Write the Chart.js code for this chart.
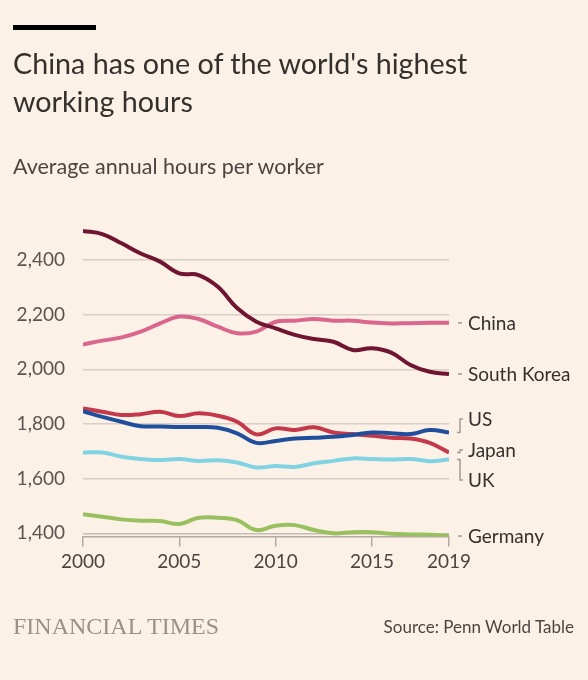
<!DOCTYPE html>
<html>
<head>
<meta charset="utf-8">
<script src="https://cdn.jsdelivr.net/npm/chart.js@4/dist/chart.umd.min.js"></script>
<style>
html, body { margin: 0; padding: 0; background: #fcf1e7; }
body { width: 588px; height: 680px; position: relative; overflow: hidden; font-family: Lato, sans-serif; color: #33302e; }
#bar { position: absolute; left: 13px; top: 25px; width: 83px; height: 5px; background: #000; }
#title { position: absolute; left: 13px; top: 44px; font-size: 28.7px; line-height: 38px; width: 570px; }
#sub { position: absolute; left: 13px; top: 154px; font-size: 21.5px; line-height: 25px; color: #4a4542; }
#ft { position: absolute; left: 13px; top: 614px; font-family: "Liberation Serif", serif; font-size: 24px; line-height: 24px; color: #9a9189; }
#source { position: absolute; right: 14px; top: 617px; font-size: 17px; line-height: 20px; color: #4a4542; }
#chart { position: absolute; left: 0; top: 0; }
</style>
</head>
<body>
<canvas id="chart" width="588" height="680"></canvas>
<div id="bar"></div>
<div id="title">China has one of the world's highest<br>working hours</div>
<div id="sub">Average annual hours per worker</div>
<div id="ft">FINANCIAL TIMES</div>
<div id="source">Source: Penn World Table</div>
<script>
// values (hours per worker per year)
var years = [2000, 2001, 2002, 2003, 2004, 2005, 2006, 2007, 2008, 2009,
             2010, 2011, 2012, 2013, 2014, 2015, 2016, 2017, 2018, 2019];

var southKorea = [2506, 2495, 2461, 2424, 2394, 2351, 2345, 2302, 2224, 2174,
                  2150, 2126, 2111, 2101, 2071, 2077, 2061, 2016, 1991, 1983];
var china      = [2091, 2105, 2117, 2138, 2168, 2193, 2184, 2156, 2132, 2138,
                  2174, 2178, 2184, 2178, 2178, 2171, 2168, 2169, 2170, 2170];
var us         = [1847, 1826, 1808, 1792, 1791, 1789, 1789, 1786, 1766, 1731,
                  1738, 1747, 1750, 1753, 1760, 1769, 1766, 1763, 1778, 1769];
var japan      = [1857, 1845, 1833, 1836, 1845, 1829, 1839, 1830, 1808, 1762,
                  1784, 1778, 1788, 1769, 1763, 1757, 1750, 1747, 1731, 1696];
var uk         = [1695, 1696, 1680, 1672, 1668, 1672, 1665, 1667, 1659, 1641,
                  1646, 1643, 1656, 1665, 1674, 1672, 1670, 1672, 1664, 1670];
var germany    = [1470, 1461, 1451, 1446, 1445, 1434, 1457, 1457, 1448, 1412,
                  1428, 1430, 1412, 1400, 1404, 1404, 1398, 1396, 1395, 1390];

var xTicks = [2000, 2005, 2010, 2015, 2019];
var yTicks = [1400, 1600, 1800, 2000, 2200, 2400];

// where the right-hand labels sit when they are nudged away from the line end
var labelShift = { 'US': 1818, 'Japan': 1705, 'UK': 1595 };

function series(name, values, colour) {
  return {
    label: name,
    data: values,
    borderColor: colour,
    borderWidth: 4,
    pointRadius: 0,
    tension: 0.4,
    fill: false
  };
}

var endLabels = {
  id: 'endLabels',
  afterDatasetsDraw: function(chart) {
    var ctx = chart.ctx;
    var yScale = chart.scales.y;
    var right = chart.chartArea.right;
    var cx = right + 11;
    ctx.save();
    ctx.font = '19px Lato';
    ctx.fillStyle = '#33302e';
    ctx.textBaseline = 'middle';
    ctx.strokeStyle = '#a39a92';
    ctx.lineWidth = 1.5;
    chart.data.datasets.forEach(function(ds) {
      var dy = yScale.getPixelForValue(ds.data[ds.data.length - 1]);
      var ly = dy;
      ctx.beginPath();
      if (labelShift[ds.label] !== undefined) {
        ly = yScale.getPixelForValue(labelShift[ds.label]);
        ctx.moveTo(cx - 3, dy);
        ctx.lineTo(cx, dy);
        ctx.lineTo(cx, ly);
        ctx.lineTo(cx + 3, ly);
      } else {
        ctx.moveTo(cx - 2, ly);
        ctx.lineTo(cx + 2, ly);
      }
      ctx.stroke();
      ctx.fillText(ds.label, right + 19, ly + 1);
    });
    ctx.restore();
  }
};

var chart_config = {
  type: 'line',
  data: {
    labels: years,
    datasets: [
      series('South Korea', southKorea, '#6f1431'),
      series('China', china, '#da668e'),
      series('US', us, '#1f4f9c'),
      series('Japan', japan, '#c3394a'),
      series('UK', uk, '#80d3e2'),
      series('Germany', germany, '#99c05f')
    ]
  },
  options: {
    responsive: false,
    animation: false,
    devicePixelRatio: 1,
    layout: { padding: { top: 227.2, right: 139, left: 0, bottom: 0 } },
    plugins: { legend: { display: false }, tooltip: { enabled: false } },
    scales: {
      x: {
        type: 'linear',
        min: 2000,
        max: 2019,
        afterBuildTicks: function(scale) {
          scale.ticks = xTicks.map(function(v) { return { value: v }; });
        },
        afterFit: function(scale) { scale.height = 143.4; },
        grid: { drawOnChartArea: false, drawTicks: true, tickLength: 10, color: '#b3aaa2', lineWidth: 1.5 },
        border: { display: true, color: '#b3aaa2', width: 1.5 },
        ticks: {
          padding: 4,
          color: '#4a4542',
          font: { family: 'Lato', size: 19 },
          maxRotation: 0,
          callback: function(v) { return String(v); }
        }
      },
      y: {
        min: 1388,
        max: 2520,
        afterBuildTicks: function(scale) {
          scale.ticks = yTicks.map(function(v) { return { value: v }; });
        },
        afterFit: function(scale) { scale.width = 83; },
        grid: {
          drawTicks: false,
          lineWidth: 1.5,
          color: function(c) { return c.tick && c.tick.value === 1400 ? '#c6bcb3' : '#d8cec5'; }
        },
        border: { display: false },
        ticks: {
          padding: 18,
          color: '#5a5350',
          font: { family: 'Lato', size: 19 },
          callback: function(v) { return v.toLocaleString('en-US'); }
        }
      }
    }
  },
  plugins: [endLabels]
};

window.myLine = new Chart(document.getElementById('chart').getContext('2d'), chart_config);
</script>
</body>
</html>
